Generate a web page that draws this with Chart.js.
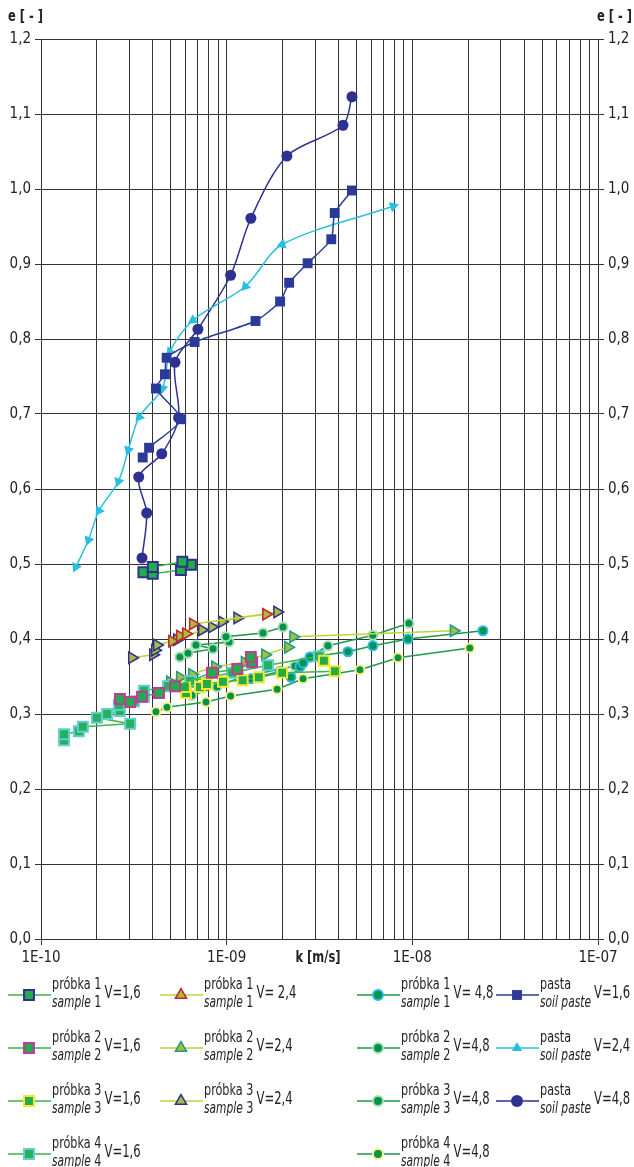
<!DOCTYPE html>
<html>
<head>
<meta charset="utf-8">
<script src="https://cdn.jsdelivr.net/npm/chart.js@4.4.1/dist/chart.umd.min.js"></script>
<style>
  html, body { margin: 0; padding: 0; background: #fff; }
  #wrap { width: 634px; height: 1167px; }
</style>
</head>
<body>
<div id="wrap"><canvas id="chart" width="634" height="1167"></canvas></div>
<script>
// e [-] against k [m/s]
const s1v16K = [3.56e-10, 4.0e-10, 5.67e-10, 6.42e-10, 5.77e-10, 4.0e-10];
const s1v16E = [0.489, 0.487, 0.492, 0.499, 0.503, 0.496];
const s2v16K = [2.66e-10, 3.02e-10, 3.50e-10, 4.32e-10, 5.27e-10, 8.33e-10, 1.14e-9, 1.37e-9, 1.35e-9];
const s2v16E = [0.320, 0.316, 0.323, 0.328, 0.337, 0.355, 0.360, 0.369, 0.376];
const s3v16K = [6.04e-10, 5.96e-10, 7.18e-10, 7.83e-10, 9.55e-10, 1.22e-9, 1.49e-9, 1.99e-9, 3.83e-9, 3.34e-9];
const s3v16E = [0.328, 0.336, 0.336, 0.340, 0.343, 0.345, 0.349, 0.355, 0.357, 0.371];
const s4v16K = [1.33e-10, 1.33e-10, 1.60e-10, 1.68e-10, 3.02e-10, 2.00e-10, 2.27e-10, 2.66e-10, 2.63e-10, 3.17e-10, 3.59e-10, 3.59e-10, 4.83e-10, 6.35e-10, 1.07e-9, 1.67e-9, 3.14e-9];
const s4v16E = [0.265, 0.273, 0.277, 0.283, 0.287, 0.295, 0.300, 0.304, 0.312, 0.317, 0.323, 0.331, 0.337, 0.344, 0.355, 0.365, 0.377];

const s1v24K = [5.08e-10, 5.60e-10, 6.04e-10, 6.58e-10, 1.63e-9];
const s1v24E = [0.397, 0.404, 0.407, 0.420, 0.433];
const s2v24K = [4.95e-10, 5.60e-10, 6.50e-10, 8.65e-10, 1.25e-9, 1.61e-9, 2.14e-9, 2.28e-9, 1.67e-8];
const s2v24E = [0.343, 0.349, 0.353, 0.363, 0.369, 0.379, 0.389, 0.403, 0.411];
const s3v24K = [3.09e-10, 4.01e-10, 4.11e-10, 4.21e-10, 5.40e-10, 7.36e-10, 8.33e-10, 9.43e-10, 1.14e-9, 1.87e-9];
const s3v24E = [0.375, 0.379, 0.385, 0.392, 0.399, 0.412, 0.416, 0.423, 0.428, 0.436];

const s1v48K = [1.35e-9, 1.94e-9, 2.22e-9, 2.48e-9, 2.58e-9, 2.81e-9, 4.50e-9, 6.13e-9, 9.47e-9, 2.40e-8];
const s1v48E = [0.347, 0.357, 0.349, 0.363, 0.368, 0.376, 0.383, 0.391, 0.400, 0.411];
const s2v48K = [5.60e-10, 6.19e-10, 8.44e-10, 6.83e-10, 1.03e-9, 9.91e-10, 1.57e-9, 2.01e-9];
const s2v48E = [0.376, 0.381, 0.387, 0.392, 0.396, 0.403, 0.408, 0.416];
const s3v48K = [6.50e-10, 8.87e-10, 1.19e-9, 2.33e-9, 3.51e-9, 6.13e-9, 9.59e-9];
const s3v48E = [0.325, 0.336, 0.349, 0.364, 0.391, 0.405, 0.421];
const s4v48K = [4.16e-10, 4.77e-10, 7.74e-10, 1.05e-9, 1.87e-9, 2.58e-9, 5.22e-9, 8.37e-9, 2.04e-8];
const s4v48E = [0.303, 0.309, 0.316, 0.324, 0.333, 0.347, 0.359, 0.375, 0.388];

const pv16K = [4.73e-9, 3.82e-9, 3.66e-9, 2.73e-9, 2.17e-9, 1.94e-9, 1.43e-9, 6.72e-10, 4.75e-10, 4.65e-10, 4.16e-10, 5.69e-10, 3.82e-10, 3.53e-10];
const pv16E = [0.998, 0.968, 0.933, 0.901, 0.875, 0.850, 0.824, 0.796, 0.775, 0.753, 0.734, 0.693, 0.655, 0.642];
const pv24K = [7.89e-9, 1.99e-9, 1.26e-9, 6.58e-10, 4.95e-10, 4.51e-10, 3.38e-10, 2.95e-10, 2.61e-10, 2.05e-10, 1.80e-10, 1.54e-10];
const pv24E = [0.977, 0.926, 0.870, 0.825, 0.783, 0.734, 0.696, 0.652, 0.610, 0.571, 0.532, 0.496];
const pv48K = [4.73e-9, 4.23e-9, 2.11e-9, 1.35e-9, 1.05e-9, 7.0e-10, 5.27e-10, 5.51e-10, 4.47e-10, 3.36e-10, 3.71e-10, 3.50e-10];
const pv48E = [1.123, 1.085, 1.044, 0.961, 0.885, 0.813, 0.769, 0.695, 0.647, 0.616, 0.568, 0.508];

// legend texts
const legendName = ['próbka 1', 'próbka 2', 'próbka 3', 'próbka 4', 'próbka 1', 'próbka 2', 'próbka 3',
  'próbka 1', 'próbka 2', 'próbka 3', 'próbka 4', 'pasta', 'pasta', 'pasta'];
const legendSub = ['sample', 'sample', 'sample', 'sample', 'sample', 'sample', 'sample',
  'sample', 'sample', 'sample', 'sample', 'soil paste', 'soil paste', 'soil paste'];
const legendNum = [' 1', ' 2', ' 3', ' 4', ' 1', ' 2', ' 3', ' 1', ' 2', ' 3', ' 4', '', '', ''];
const legendV = ['V=1,6', 'V=1,6', 'V=1,6', 'V=1,6', 'V= 2,4', 'V=2,4', 'V=2,4',
  'V= 4,8', 'V=4,8', 'V=4,8', 'V=4,8', 'V=1,6', 'V=2,4', 'V=4,8'];
const legendCol = [0, 0, 0, 0, 1, 1, 1, 2, 2, 2, 2, 3, 3, 3];
const legendRow = [0, 1, 2, 3, 0, 1, 2, 0, 1, 2, 3, 0, 1, 2];

const FONT = '"Liberation Sans Narrow", "DejaVu Sans Condensed", Roboto, sans-serif';
const GRID = '#333';

const pts = (k, e) => k.map((v, i) => ({ x: v, y: e[i] }));
const isDecade = (v) => Math.abs(Math.log10(v) - Math.round(Math.log10(v))) < 1e-6;

// green family
const lineG = '#3cb54a';
const fillG = '#22ad4b';
const lineY = '#bfd43a';
const fillY = '#a9bd3a';
const lineD = '#1d9a4c';
const fillD = '#00944a';
const navy = '#2e3192';

function ds(label, k, e, o) {
  return Object.assign({
    label,
    data: pts(k, e),
    showLine: true,
    borderWidth: 1.5,
    tension: 0,
    pointBorderWidth: 2,
    pointHoverRadius: 0
  }, o);
}

// arrow-like triangles on the soil paste V=2,4 curve follow the path direction
function pathRotation(ctx) {
  const d = ctx.dataset.data;
  const i = ctx.dataIndex;
  const sx = ctx.chart.scales.x, sy = ctx.chart.scales.y;
  if (!sx || !sy || !d[i]) return 0;
  const px = (p) => [sx.getPixelForValue(p.x), sy.getPixelForValue(p.y)];
  const a = px(d[i]);
  let b;
  if (i === 0) { const n = px(d[1]); b = [a[0] - n[0], a[1] - n[1]]; }
  else { const p = px(d[i - 1]); b = [a[0] - p[0], a[1] - p[1]]; }
  return Math.atan2(b[0], -b[1]) * 180 / Math.PI;
}

const datasets = [
  ds('próbka 1 sample 1 V=1,6', s1v16K, s1v16E, { borderColor: lineG, pointStyle: 'rect', pointRadius: 7, pointBackgroundColor: fillG, pointBorderColor: navy }),
  ds('próbka 2 sample 2 V=1,6', s2v16K, s2v16E, { borderColor: lineG, pointStyle: 'rect', pointRadius: 7, pointBackgroundColor: fillG, pointBorderColor: '#c2399c' }),
  ds('próbka 3 sample 3 V=1,6', s3v16K, s3v16E, { borderColor: lineG, pointStyle: 'rect', pointRadius: 7, pointBackgroundColor: fillG, pointBorderColor: '#f4e62c' }),
  ds('próbka 4 sample 4 V=1,6', s4v16K, s4v16E, { borderColor: lineG, pointStyle: 'rect', pointRadius: 7, pointBackgroundColor: '#26b05e', pointBorderColor: '#63cdcb' }),
  ds('próbka 1 sample 1 V=2,4', s1v24K, s1v24E, { borderColor: lineY, pointStyle: 'triangle', pointRadius: 6.5, rotation: 90, pointBackgroundColor: fillY, pointBorderColor: '#c1272d', pointBorderWidth: 1.5 }),
  ds('próbka 2 sample 2 V=2,4', s2v24K, s2v24E, { borderColor: lineY, pointStyle: 'triangle', pointRadius: 6.5, rotation: 90, pointBackgroundColor: fillY, pointBorderColor: '#1b9c8f', pointBorderWidth: 1.5 }),
  ds('próbka 3 sample 3 V=2,4', s3v24K, s3v24E, { borderColor: lineY, pointStyle: 'triangle', pointRadius: 6.5, rotation: 90, pointBackgroundColor: fillY, pointBorderColor: navy, pointBorderWidth: 1.5 }),
  ds('próbka 1 sample 1 V=4,8', s1v48K, s1v48E, { borderColor: lineD, pointStyle: 'circle', pointRadius: 4.5, pointBackgroundColor: fillD, pointBorderColor: '#2bb8e6' }),
  ds('próbka 2 sample 2 V=4,8', s2v48K, s2v48E, { borderColor: lineD, pointStyle: 'circle', pointRadius: 4.5, pointBackgroundColor: fillD, pointBorderColor: '#a9dcb3' }),
  ds('próbka 3 sample 3 V=4,8', s3v48K, s3v48E, { borderColor: lineD, pointStyle: 'circle', pointRadius: 4.5, pointBackgroundColor: fillD, pointBorderColor: '#a9dcb3' }),
  ds('próbka 4 sample 4 V=4,8', s4v48K, s4v48E, { borderColor: lineD, pointStyle: 'circle', pointRadius: 4.5, pointBackgroundColor: fillD, pointBorderColor: '#fbef8c' }),
  ds('pasta soil paste V=1,6', pv16K, pv16E, { borderColor: '#2b3a98', tension: 0.2, pointStyle: 'rect', pointRadius: 7, pointBackgroundColor: '#2b3a98', pointBorderColor: '#2b3a98', pointBorderWidth: 0 }),
  ds('pasta soil paste V=2,4', pv24K, pv24E, { borderColor: '#27c0e0', tension: 0.3, pointStyle: 'triangle', pointRadius: 6, rotation: pathRotation, pointBackgroundColor: '#27c0e0', pointBorderColor: '#27c0e0', pointBorderWidth: 0 }),
  ds('pasta soil paste V=4,8', pv48K, pv48E, { borderColor: navy, tension: 0.3, pointStyle: 'circle', pointRadius: 5.5, pointBackgroundColor: navy, pointBorderColor: navy, pointBorderWidth: 0 })
];

const xTicks = [];
[-10, -9, -8].forEach((p) => {
  for (let m = 1; m <= 9; m++) xTicks.push(Number(m + 'e' + p));
});
xTicks.push(1e-7);

// narrow text: the original uses a condensed face
function narrowText(c, txt, x, y, sq) {
  c.save();
  c.translate(x, y);
  c.scale(sq, 1);
  c.fillText(txt, 0, 0);
  c.restore();
  return c.measureText(txt).width * sq;
}

// axis titles and the four-column legend
const annotations = {
  id: 'annotations',
  afterDraw(chart) {
    const c = chart.ctx;
    c.save();
    c.fillStyle = '#222';
    c.textBaseline = 'middle';
    c.textAlign = 'left';
    c.font = 'bold 15px ' + FONT;
    narrowText(c, 'e [ - ]', 8, 17, 0.85);
    const wr = c.measureText('e [ - ]').width * 0.85;
    narrowText(c, 'e [ - ]', 632 - wr, 17, 0.85);
    const wk = c.measureText('k [m/s]').width * 0.85;
    narrowText(c, 'k [m/s]', 318 - wk / 2, 958, 0.85);

    const colX = [8, 160, 357, 496];
    const rowY = [995, 1048, 1101, 1154];
    chart.data.datasets.forEach((d, i) => {
      const x0 = colX[legendCol[i]];
      const y0 = rowY[legendRow[i]];
      c.strokeStyle = d.borderColor;
      c.lineWidth = 1.5;
      c.beginPath();
      c.moveTo(x0, y0);
      c.lineTo(x0 + 43, y0);
      c.stroke();
      c.fillStyle = d.pointBackgroundColor;
      c.strokeStyle = d.pointBorderColor;
      c.lineWidth = d.pointBorderWidth;
      Chart.helpers.drawPoint(c, {
        pointStyle: d.pointStyle,
        radius: d.pointStyle === 'circle' ? d.pointRadius + 0.5 : d.pointRadius,
        rotation: 0,
        borderWidth: d.pointBorderWidth
      }, x0 + 21, y0);

      c.fillStyle = '#222';
      const tx = x0 + 44;
      c.font = '16px ' + FONT;
      const w0 = narrowText(c, legendName[i], tx, y0 - 10, 0.78);
      c.font = 'italic 16px ' + FONT;
      const w1 = narrowText(c, legendSub[i], tx, y0 + 8, 0.74);
      c.font = '16px ' + FONT;
      const w2 = w1 + narrowText(c, legendNum[i], tx + w1, y0 + 8, 0.78);
      c.font = '17px ' + FONT;
      narrowText(c, legendV[i], tx + Math.max(w0, w2) + 3, y0 - 1, 0.76);
    });
    c.restore();
  }
};

const yTick = (v) => v.toFixed(1).replace('.', ',');

new Chart(document.getElementById('chart'), {
  type: 'scatter',
  data: { datasets },
  options: {
    responsive: false,
    animation: false,
    devicePixelRatio: 1,
    layout: { padding: { top: 39, left: 0, right: 0, bottom: 0 } },
    plugins: { legend: { display: false }, tooltip: { enabled: false } },
    scales: {
      x: {
        type: 'logarithmic',
        min: 1e-10,
        max: 1e-7,
        afterBuildTicks: (s) => { s.ticks = xTicks.map((v) => ({ value: v })); },
        afterFit: (s) => { s.height = 228; },
        grid: {
          color: GRID,
          lineWidth: 1,
          tickLength: 6,
          tickColor: (ctx) => (ctx.tick && isDecade(ctx.tick.value) ? GRID : 'rgba(0,0,0,0)')
        },
        border: { color: GRID, width: 1 },
        ticks: {
          autoSkip: false,
          maxRotation: 0,
          padding: 4,
          color: '#222',
          font: { family: FONT, size: 15 },
          callback: (v) => {
            if (!isDecade(v)) return '';
            const p = Math.round(Math.log10(v));
            return '1E-' + String(-p).padStart(2, '0');
          }
        }
      },
      y: {
        position: 'left',
        min: 0,
        max: 1.2,
        afterFit: (s) => { s.width = 41; },
        grid: { color: GRID, lineWidth: 1, tickLength: 6 },
        border: { color: GRID, width: 1 },
        ticks: { stepSize: 0.1, padding: 4, color: '#222', font: { family: FONT, size: 15 }, callback: yTick }
      },
      y2: {
        position: 'right',
        min: 0,
        max: 1.2,
        afterFit: (s) => { s.width = 36; },
        grid: { drawOnChartArea: false, color: GRID, tickLength: 6 },
        border: { color: GRID, width: 1 },
        ticks: { stepSize: 0.1, padding: 4, color: '#222', font: { family: FONT, size: 15 }, callback: yTick }
      }
    }
  },
  plugins: [annotations]
});
</script>
</body>
</html>
